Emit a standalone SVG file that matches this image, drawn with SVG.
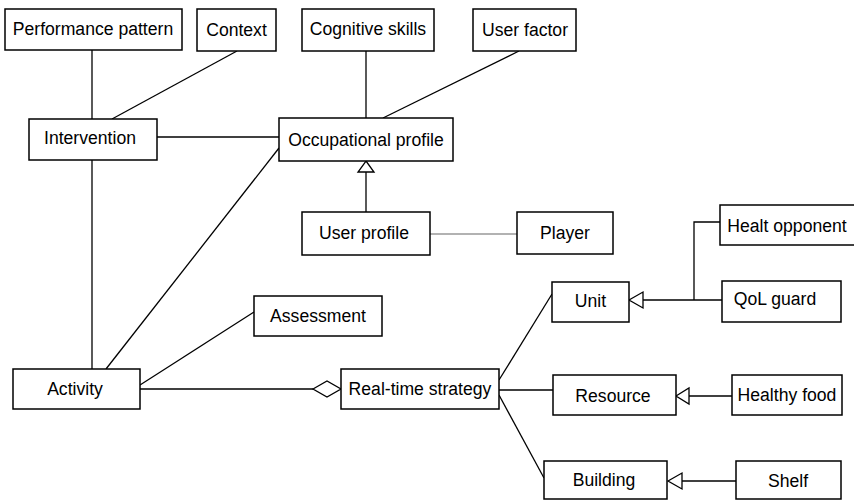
<svg xmlns="http://www.w3.org/2000/svg" width="854" height="501" viewBox="0 0 854 501">
  <style>
    .box { fill: #fff; stroke: #000; stroke-width: 1.5; }
    .lbl { font-family: "Liberation Sans", Arial, sans-serif; font-size: 17.6px; fill: #000; text-anchor: middle; dominant-baseline: central; }
    .edge { fill: none; stroke: #000; stroke-width: 1.3; }
    .faint { fill: none; stroke: #999; stroke-width: 1.3; }
    .head { fill: #fff; stroke: #000; stroke-width: 1.3; }
  </style>
  <rect width="854" height="501" fill="#fff"/>

  <g id="connectors">
    <!-- associations -->
    <line class="edge" x1="92" y1="50" x2="92" y2="119"/>
    <line class="edge" x1="237" y1="51" x2="112" y2="119"/>
    <line class="edge" x1="157" y1="137" x2="279" y2="137"/>
    <line class="edge" x1="366" y1="51" x2="366" y2="118"/>
    <line class="edge" x1="519" y1="51" x2="383" y2="118"/>
    <line class="edge" x1="92" y1="160" x2="92" y2="369"/>
    <line class="edge" x1="106" y1="369" x2="279" y2="148"/>
    <line class="edge" x1="140" y1="385" x2="254" y2="312"/>
    <line class="faint" x1="430" y1="234" x2="517" y2="234"/>
    <line class="edge" x1="499" y1="380" x2="552" y2="294"/>
    <line class="edge" x1="499" y1="390" x2="553" y2="390"/>
    <line class="edge" x1="499" y1="395" x2="544" y2="478"/>

    <!-- aggregation: Activity to Real-time strategy -->
    <line class="edge" x1="140" y1="389" x2="313" y2="389"/>
    <polygon class="head" points="313,389 327,381 341,389 327,397"/>

    <!-- generalisation: User profile to Occupational profile -->
    <line class="edge" x1="366" y1="172" x2="366" y2="212"/>
    <polygon class="head" points="366,161 374,172 358,172"/>

    <!-- generalisation: Healt opponent / QoL guard to Unit -->
    <polyline class="edge" points="720,222 694,222 694,300"/>
    <line class="edge" x1="643" y1="300" x2="722" y2="300"/>
    <polygon class="head" points="629,300 643,292 643,308"/>

    <!-- generalisation: Healthy food to Resource -->
    <line class="edge" x1="689" y1="396" x2="732" y2="396"/>
    <polygon class="head" points="676,396 689,388 689,404"/>

    <!-- generalisation: Shelf to Building -->
    <line class="edge" x1="682" y1="481" x2="736" y2="481"/>
    <polygon class="head" points="668,481 682,473 682,489"/>
  </g>

  <g id="performance-pattern">
    <rect class="box" x="5" y="9" width="177" height="41"/>
    <text class="lbl" x="93" y="29">Performance pattern</text>
  </g>
  <g id="context">
    <rect class="box" x="197" y="9" width="79" height="42"/>
    <text class="lbl" x="236.5" y="30">Context</text>
  </g>
  <g id="cognitive-skills">
    <rect class="box" x="302" y="9" width="132" height="42"/>
    <text class="lbl" x="368" y="29">Cognitive skills</text>
  </g>
  <g id="user-factor">
    <rect class="box" x="473" y="9" width="103" height="42"/>
    <text class="lbl" x="525" y="30">User factor</text>
  </g>
  <g id="intervention">
    <rect class="box" x="29" y="119" width="128" height="41"/>
    <text class="lbl" x="90" y="138">Intervention</text>
  </g>
  <g id="occupational-profile">
    <rect class="box" x="279" y="118" width="174" height="43"/>
    <text class="lbl" x="366" y="140">Occupational profile</text>
  </g>
  <g id="user-profile">
    <rect class="box" x="302" y="212" width="128" height="43"/>
    <text class="lbl" x="364" y="233">User profile</text>
  </g>
  <g id="player">
    <rect class="box" x="517" y="212" width="96" height="42"/>
    <text class="lbl" x="565" y="233">Player</text>
  </g>
  <g id="healt-opponent">
    <rect class="box" x="720" y="205" width="140" height="40"/>
    <text class="lbl" x="787" y="226">Healt opponent</text>
  </g>
  <g id="unit">
    <rect class="box" x="552" y="282" width="77" height="40"/>
    <text class="lbl" x="590.5" y="301">Unit</text>
  </g>
  <g id="qol-guard">
    <rect class="box" x="722" y="281" width="119" height="41"/>
    <text class="lbl" x="775" y="299">QoL guard</text>
  </g>
  <g id="assessment">
    <rect class="box" x="254" y="296" width="128" height="40"/>
    <text class="lbl" x="318" y="316">Assessment</text>
  </g>
  <g id="activity">
    <rect class="box" x="13" y="369" width="127" height="40"/>
    <text class="lbl" x="75" y="389">Activity</text>
  </g>
  <g id="real-time-strategy">
    <rect class="box" x="341" y="369" width="158" height="40"/>
    <text class="lbl" x="420" y="389">Real-time strategy</text>
  </g>
  <g id="resource">
    <rect class="box" x="553" y="375" width="123" height="40"/>
    <text class="lbl" x="613" y="396">Resource</text>
  </g>
  <g id="healthy-food">
    <rect class="box" x="732" y="375" width="110" height="40"/>
    <text class="lbl" x="787" y="395">Healthy food</text>
  </g>
  <g id="building">
    <rect class="box" x="544" y="461" width="123" height="38"/>
    <text class="lbl" x="604" y="480">Building</text>
  </g>
  <g id="shelf">
    <rect class="box" x="736" y="461" width="105" height="38"/>
    <text class="lbl" x="788" y="481">Shelf</text>
  </g>
</svg>
